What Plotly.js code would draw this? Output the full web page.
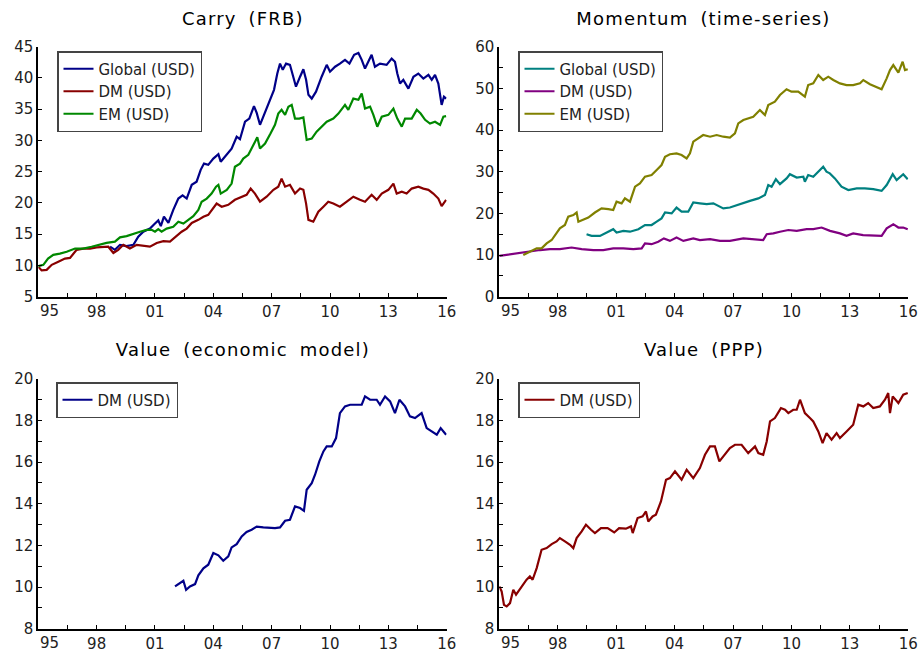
<!DOCTYPE html>
<html>
<head>
<meta charset="utf-8">
<script src="https://cdn.plot.ly/plotly-3.0.1.min.js"></script>
<style>
html,body{margin:0;padding:0;background:#fff;}
#chart{width:922px;height:653px;}
#chart .annotation-text.ptitle{letter-spacing:1.2px;word-spacing:5px;}
</style>
</head>
<body>
<div id="chart"></div>
<script>
// ---------- data: [year, value] ----------
const xTickVals = [1995, 1998, 2001, 2004, 2007, 2010, 2013, 2016];
const xTickText = ['', '98', '01', '04', '07', '10', '13', '16'];
const firstTickText = '95';

const panelTitles = ['Carry (FRB)', 'Momentum (time-series)', 'Value (economic model)', 'Value (PPP)'];

const carryGlobal = [[1998.69,13.0],[1998.94,12.5],[1999.2,13.3],[1999.54,13.1],[1999.89,13.3],[2000.14,14.6],[2000.4,15.4],[2000.74,15.9],[2001.0,16.7],[2001.17,17.2],[2001.3,16.3],[2001.46,17.8],[2001.69,16.8],[2001.94,18.9],[2002.2,20.7],[2002.42,21.2],[2002.63,20.7],[2002.89,22.9],[2003.14,23.4],[2003.35,25.3],[2003.52,26.3],[2003.74,26.1],[2004.0,27.1],[2004.26,27.8],[2004.38,26.6],[2004.6,27.4],[2004.94,28.7],[2005.2,30.6],[2005.37,30.2],[2005.63,33.0],[2005.85,33.5],[2006.09,35.5],[2006.23,34.4],[2006.4,32.5],[2006.66,34.6],[2006.91,36.7],[2007.12,38.1],[2007.29,40.7],[2007.43,42.3],[2007.57,41.3],[2007.74,42.3],[2007.94,42.1],[2008.11,40.2],[2008.25,38.6],[2008.46,40.2],[2008.63,41.4],[2008.77,39.7],[2008.89,37.3],[2009.06,36.7],[2009.28,37.8],[2009.57,40.2],[2009.83,42.1],[2010.0,41.0],[2010.26,41.8],[2010.51,42.3],[2010.77,42.9],[2011.0,42.3],[2011.24,43.7],[2011.46,44.0],[2011.63,42.9],[2011.8,41.5],[2011.97,42.6],[2012.14,43.7],[2012.31,41.8],[2012.57,42.3],[2012.91,42.1],[2013.17,43.1],[2013.34,42.6],[2013.46,40.7],[2013.6,39.1],[2013.77,39.7],[2014.03,38.3],[2014.29,40.2],[2014.54,40.7],[2014.8,39.9],[2015.06,40.5],[2015.23,39.7],[2015.4,40.5],[2015.57,39.1],[2015.74,35.7],[2015.86,37.0],[2015.97,36.7]];

const carryDM = [[1995.0,9.8],[1995.17,9.2],[1995.43,9.3],[1995.69,10.1],[1996.03,10.6],[1996.37,11.1],[1996.63,11.2],[1996.97,12.5],[1997.31,12.7],[1997.66,12.7],[1998.0,12.9],[1998.34,13.0],[1998.6,13.0],[1998.86,12.0],[1999.11,12.5],[1999.37,13.3],[1999.71,12.7],[2000.06,13.3],[2000.4,13.1],[2000.74,13.0],[2001.09,13.6],[2001.43,13.9],[2001.77,13.8],[2002.03,14.5],[2002.37,15.4],[2002.63,15.9],[2002.89,16.8],[2003.23,17.3],[2003.49,17.8],[2003.74,18.1],[2004.0,19.1],[2004.17,19.9],[2004.43,19.4],[2004.77,19.7],[2005.11,20.5],[2005.46,21.0],[2005.71,21.3],[2005.92,22.3],[2006.14,21.5],[2006.4,20.2],[2006.74,21.0],[2007.09,22.1],[2007.34,22.6],[2007.51,23.9],[2007.69,22.6],[2007.94,22.9],[2008.2,21.5],[2008.46,22.3],[2008.63,22.1],[2008.77,19.9],[2008.89,17.3],[2009.14,17.0],[2009.4,18.6],[2009.66,19.4],[2009.91,20.2],[2010.17,19.9],[2010.51,19.4],[2010.86,20.2],[2011.2,21.0],[2011.54,20.5],[2011.8,20.2],[2012.14,21.3],[2012.4,20.5],[2012.66,21.5],[2013.0,22.1],[2013.26,23.1],[2013.43,21.5],[2013.69,21.8],[2013.94,21.5],[2014.2,22.3],[2014.54,22.6],[2014.8,22.3],[2015.06,22.1],[2015.31,21.5],[2015.57,20.7],[2015.74,19.5],[2015.97,20.5]];

const carryEM = [[1995.0,9.9],[1995.26,10.1],[1995.5,11.1],[1995.77,11.7],[1996.11,11.9],[1996.46,12.2],[1996.89,12.7],[1997.31,12.7],[1997.74,13.0],[1998.09,13.3],[1998.51,13.6],[1998.94,13.8],[1999.2,14.5],[1999.54,14.7],[1999.89,15.1],[2000.23,15.4],[2000.57,15.7],[2000.83,15.7],[2001.0,15.4],[2001.17,15.8],[2001.34,15.4],[2001.6,15.9],[2001.94,16.2],[2002.2,17.0],[2002.46,16.7],[2002.71,17.3],[2002.97,17.9],[2003.23,18.9],[2003.4,20.2],[2003.66,20.7],[2003.91,21.5],[2004.14,22.6],[2004.26,22.9],[2004.38,21.5],[2004.69,22.1],[2004.94,23.1],[2005.11,25.8],[2005.37,26.3],[2005.54,27.1],[2005.8,27.7],[2006.06,29.3],[2006.26,30.5],[2006.4,28.7],[2006.66,29.5],[2006.94,31.1],[2007.17,32.5],[2007.34,34.3],[2007.51,34.9],[2007.69,34.1],[2007.86,35.4],[2008.03,35.7],[2008.2,33.5],[2008.42,33.5],[2008.63,33.7],[2008.8,30.1],[2009.06,30.3],[2009.31,31.4],[2009.57,32.2],[2009.83,33.0],[2010.17,33.5],[2010.43,34.3],[2010.77,35.7],[2010.94,34.9],[2011.2,36.7],[2011.46,36.5],[2011.63,37.5],[2011.8,35.1],[2012.06,35.4],[2012.23,34.1],[2012.43,32.2],[2012.66,33.8],[2013.0,34.1],[2013.26,35.1],[2013.46,33.5],[2013.69,32.2],[2013.86,33.5],[2014.2,33.5],[2014.46,34.9],[2014.66,34.3],[2014.89,33.3],[2015.14,32.7],[2015.4,33.0],[2015.66,32.5],[2015.83,33.8],[2015.97,33.9]];

const momGlobal = [[1999.48,15.0],[1999.74,14.6],[2000.17,14.6],[2000.51,15.4],[2000.85,16.2],[2001.02,15.4],[2001.37,15.8],[2001.71,15.6],[2002.14,16.2],[2002.48,17.2],[2002.82,17.2],[2003.08,18.0],[2003.33,18.8],[2003.51,20.2],[2003.85,20.0],[2004.1,21.4],[2004.36,20.4],[2004.7,20.4],[2004.96,22.6],[2005.3,22.4],[2005.65,22.2],[2005.99,22.4],[2006.5,21.2],[2006.84,21.4],[2007.19,22.0],[2007.53,22.6],[2007.87,23.0],[2008.3,23.6],[2008.64,24.4],[2008.81,26.8],[2008.98,26.4],[2009.2,28.2],[2009.41,27.0],[2009.75,28.4],[2009.92,29.4],[2010.27,28.6],[2010.61,28.8],[2010.69,27.6],[2010.86,29.2],[2011.12,28.8],[2011.46,30.4],[2011.63,31.2],[2011.8,30.0],[2011.97,29.6],[2012.23,28.4],[2012.57,26.4],[2012.92,25.6],[2013.35,26.0],[2013.77,26.0],[2014.2,25.8],[2014.63,25.4],[2014.89,26.8],[2015.2,29.4],[2015.4,28.0],[2015.74,29.4],[2015.97,28.2]];

const momDM = [[1995.0,9.8],[1995.55,10.2],[1996.06,10.6],[1996.57,10.8],[1997.09,11.2],[1997.6,11.4],[1998.11,11.4],[1998.71,11.8],[1999.23,11.4],[1999.83,11.2],[2000.34,11.2],[2000.85,11.6],[2001.37,11.6],[2001.88,11.4],[2002.31,11.6],[2002.48,12.8],[2002.82,12.6],[2003.16,13.2],[2003.45,14.0],[2003.76,13.4],[2004.1,14.2],[2004.45,13.4],[2004.96,14.0],[2005.3,13.6],[2005.82,13.8],[2006.33,13.4],[2006.84,13.4],[2007.53,14.0],[2008.04,13.8],[2008.55,13.6],[2008.73,15.0],[2009.07,15.2],[2009.41,15.6],[2009.84,16.0],[2010.27,15.8],[2010.78,16.2],[2011.12,16.2],[2011.55,16.6],[2011.98,15.8],[2012.49,15.2],[2012.83,14.6],[2013.17,15.2],[2013.68,14.8],[2014.2,14.6],[2014.63,14.6],[2014.89,16.4],[2015.23,17.4],[2015.49,16.6],[2015.74,16.6],[2015.97,16.2]];

const momEM = [[1996.23,10.0],[1996.57,10.8],[1996.92,11.6],[1997.17,11.6],[1997.43,12.8],[1997.69,13.6],[1997.94,15.2],[1998.11,16.4],[1998.37,17.2],[1998.54,19.2],[1998.8,19.6],[1998.97,20.2],[1999.06,18.0],[1999.31,18.4],[1999.57,19.0],[1999.91,20.2],[2000.25,21.2],[2000.6,21.0],[2000.85,20.8],[2001.02,22.8],[2001.28,22.4],[2001.45,23.6],[2001.71,22.8],[2001.97,26.4],[2002.22,27.2],[2002.48,28.8],[2002.82,29.2],[2003.08,30.4],[2003.33,31.6],[2003.51,33.6],[2003.76,34.2],[2004.1,34.4],[2004.36,34.0],[2004.62,33.2],[2004.79,34.4],[2004.96,37.2],[2005.22,38.0],[2005.47,38.8],[2005.82,38.4],[2006.16,38.8],[2006.5,38.4],[2006.84,38.2],[2007.1,39.2],[2007.27,41.6],[2007.53,42.4],[2007.78,42.8],[2008.04,43.2],[2008.38,44.8],[2008.64,43.6],[2008.81,46.0],[2009.15,46.8],[2009.41,48.4],[2009.75,49.8],[2010.0,49.2],[2010.35,49.2],[2010.69,48.0],[2010.86,50.8],[2011.12,51.2],[2011.38,53.2],[2011.63,52.0],[2011.89,52.8],[2012.15,52.0],[2012.49,51.2],[2012.83,50.8],[2013.17,50.8],[2013.52,51.2],[2013.69,52.0],[2014.03,51.0],[2014.37,50.4],[2014.63,49.8],[2014.89,52.4],[2015.06,54.4],[2015.23,55.6],[2015.49,53.8],[2015.71,56.4],[2015.83,54.4],[2015.97,54.6]];

const valueEconDM = [[2002.03,10.03],[2002.29,10.2],[2002.46,10.3],[2002.6,9.87],[2002.8,10.03],[2003.06,10.14],[2003.23,10.56],[2003.49,10.9],[2003.74,11.07],[2004.0,11.63],[2004.26,11.52],[2004.51,11.26],[2004.77,11.47],[2004.94,11.9],[2005.2,12.06],[2005.46,12.43],[2005.71,12.64],[2005.97,12.75],[2006.23,12.9],[2006.57,12.86],[2006.91,12.83],[2007.17,12.83],[2007.43,12.86],[2007.69,13.18],[2007.94,13.23],[2008.2,13.87],[2008.46,13.79],[2008.66,13.66],[2008.8,14.67],[2009.06,14.99],[2009.23,15.39],[2009.45,16.03],[2009.66,16.51],[2009.83,16.75],[2010.09,16.75],[2010.31,17.15],[2010.51,18.35],[2010.77,18.67],[2011.03,18.75],[2011.37,18.75],[2011.63,18.75],[2011.8,19.15],[2012.06,18.99],[2012.4,18.99],[2012.57,18.75],[2012.83,19.15],[2013.09,18.91],[2013.34,18.35],[2013.57,18.99],[2013.86,18.67],[2014.11,18.19],[2014.37,18.11],[2014.71,18.35],[2014.97,17.63],[2015.23,17.47],[2015.49,17.31],[2015.69,17.63],[2015.97,17.31]];

const valuePPPDM = [[1995.0,10.03],[1995.12,9.79],[1995.24,9.15],[1995.38,9.07],[1995.55,9.23],[1995.72,9.87],[1995.86,9.63],[1996.15,10.03],[1996.4,10.35],[1996.57,10.51],[1996.71,10.35],[1996.92,10.91],[1997.17,11.79],[1997.43,11.87],[1997.69,12.06],[1997.94,12.19],[1998.11,12.35],[1998.37,12.19],[1998.63,12.03],[1998.8,11.87],[1998.97,12.35],[1999.23,12.67],[1999.45,12.99],[1999.71,12.75],[1999.91,12.59],[2000.22,12.83],[2000.56,12.83],[2000.9,12.62],[2001.15,12.83],[2001.5,12.8],[2001.76,12.91],[2001.85,12.59],[2002.1,13.31],[2002.36,13.39],[2002.53,13.63],[2002.65,13.15],[2002.87,13.39],[2003.04,13.47],[2003.3,14.11],[2003.56,15.15],[2003.76,15.23],[2004.02,15.55],[2004.36,15.15],[2004.62,15.63],[2004.96,15.23],[2005.3,15.71],[2005.56,16.35],[2005.82,16.75],[2006.07,16.75],[2006.3,16.03],[2006.59,16.35],[2006.84,16.67],[2007.1,16.83],[2007.44,16.83],[2007.78,16.43],[2008.13,16.75],[2008.3,16.43],[2008.55,16.35],[2008.73,16.99],[2008.9,17.95],[2009.15,18.11],[2009.46,18.59],[2009.67,18.51],[2009.84,18.35],[2010.09,18.51],[2010.27,18.51],[2010.44,18.99],[2010.69,18.35],[2010.95,18.11],[2011.12,17.95],[2011.38,17.47],[2011.6,16.91],[2011.8,17.39],[2012.06,17.07],[2012.32,17.39],[2012.49,17.15],[2012.83,17.47],[2013.17,17.79],[2013.43,18.75],[2013.69,18.67],[2013.94,18.83],[2014.2,18.59],[2014.54,18.67],[2014.8,18.99],[2014.97,19.31],[2015.06,18.35],[2015.2,19.15],[2015.49,18.83],[2015.74,19.23],[2015.97,19.31]];

// ---------- layout helpers ----------
const W = 922, H = 653;
const FONT = 'DejaVu Sans, sans-serif';
const px = v => v / W, py = v => 1 - v / H;

const colX = [[38.3, 446.7], [499.3, 908.3]];
const rowY = [[46.7, 296.7], [378.7, 628.7]];

function tr(data, name, color, xa, ya, legend) {
  return {
    x: data.map(d => d[0]), y: data.map(d => d[1]),
    type: 'scatter', mode: 'lines', name: name,
    line: { color: color, width: 2.2 },
    xaxis: xa, yaxis: ya, legend: legend, hoverinfo: 'skip'
  };
}

const traces = [
  tr(carryGlobal, 'Global (USD)', '#000088', 'x', 'y', 'legend'),
  tr(carryDM, 'DM (USD)', '#880000', 'x', 'y', 'legend'),
  tr(carryEM, 'EM (USD)', '#008800', 'x', 'y', 'legend'),
  tr(momGlobal, 'Global (USD)', '#008080', 'x2', 'y2', 'legend2'),
  tr(momDM, 'DM (USD)', '#800080', 'x2', 'y2', 'legend2'),
  tr(momEM, 'EM (USD)', '#808000', 'x2', 'y2', 'legend2'),
  tr(valueEconDM, 'DM (USD)', '#000088', 'x3', 'y3', 'legend3'),
  tr(valuePPPDM, 'DM (USD)', '#880000', 'x4', 'y4', 'legend4')
];

const TICKFONT = { family: FONT, size: 15, color: '#222' };

function xAxis(col, row, anchor) {
  return {
    domain: [px(colX[col][0]), px(colX[col][1])], anchor: anchor,
    range: [1995, 2016], tickmode: 'array', tickvals: xTickVals, ticktext: xTickText,
    ticks: 'inside', ticklen: 4, tickwidth: 1, tickcolor: '#000',
    minor: { dtick: 1.5, tick0: 1995, ticks: 'inside', ticklen: 4, tickcolor: '#000', tickwidth: 1 },
    showline: true, linecolor: '#000', linewidth: 2, showgrid: false, zeroline: false,
    tickfont: TICKFONT, fixedrange: true
  };
}
function yAxis(col, row, anchor, range, dtick, minor) {
  const a = {
    domain: [py(rowY[row][1]), py(rowY[row][0])], anchor: anchor,
    range: range, tick0: range[0], dtick: dtick,
    ticks: 'inside', ticklen: 4, tickwidth: 1, tickcolor: '#000',
    showline: true, linecolor: '#000', linewidth: 2, showgrid: false, zeroline: false,
    tickfont: TICKFONT, fixedrange: true
  };
  if (minor) a.minor = { dtick: minor, ticks: 'inside', ticklen: 4, tickcolor: '#000', tickwidth: 1 };
  return a;
}
function legendAt(x, y) {
  return {
    x: px(x), y: py(y), xanchor: 'left', yanchor: 'top',
    bgcolor: '#fff', bordercolor: '#444', borderwidth: 1.5,
    font: { family: FONT, size: 15, color: '#222' }, tracegroupgap: 0
  };
}
function titleAnn(text, col, yPix) {
  return {
    text: text, xref: 'paper', yref: 'paper', showarrow: false,
    x: px((colX[col][0] + colX[col][1]) / 2), y: py(yPix), xanchor: 'center', yanchor: 'middle',
    font: { family: FONT, size: 18, color: '#000' }
  };
}
function firstTick(xref, yref) {
  return {
    text: firstTickText, xref: xref, yref: yref + ' domain', x: 1995, y: 0,
    xanchor: 'left', yanchor: 'middle', yshift: -14, xshift: 0, showarrow: false,
    font: TICKFONT
  };
}

const annotations = [
  titleAnn(panelTitles[0], 0, 18), titleAnn(panelTitles[1], 1, 18),
  titleAnn(panelTitles[2], 0, 349), titleAnn(panelTitles[3], 1, 349),
  firstTick('x', 'y'), firstTick('x2', 'y2'), firstTick('x3', 'y3'), firstTick('x4', 'y4')
];

const layout = {
  width: W, height: H, margin: { l: 0, r: 0, t: 0, b: 0 },
  paper_bgcolor: '#fff', plot_bgcolor: '#fff', showlegend: true,
  xaxis: xAxis(0, 0, 'y'), yaxis: yAxis(0, 0, 'x', [5, 45], 5, null),
  xaxis2: xAxis(1, 0, 'y2'), yaxis2: yAxis(1, 0, 'x2', [0, 60], 10, 5),
  xaxis3: xAxis(0, 1, 'y3'), yaxis3: yAxis(0, 1, 'x3', [8, 20], 2, 1),
  xaxis4: xAxis(1, 1, 'y4'), yaxis4: yAxis(1, 1, 'x4', [8, 20], 2, 1),
  legend: legendAt(57, 51), legend2: legendAt(518, 51),
  legend3: legendAt(56, 382), legend4: legendAt(518, 382),
  annotations: annotations
};

Plotly.newPlot('chart', traces, layout, { staticPlot: true, displayModeBar: false }).then(() => {
  // wider tracking for the four panel titles
  document.querySelectorAll('#chart .annotation-text').forEach(t => {
    if (panelTitles.indexOf(t.textContent) >= 0) t.classList.add('ptitle');
  });
});
</script>
</body>
</html>
